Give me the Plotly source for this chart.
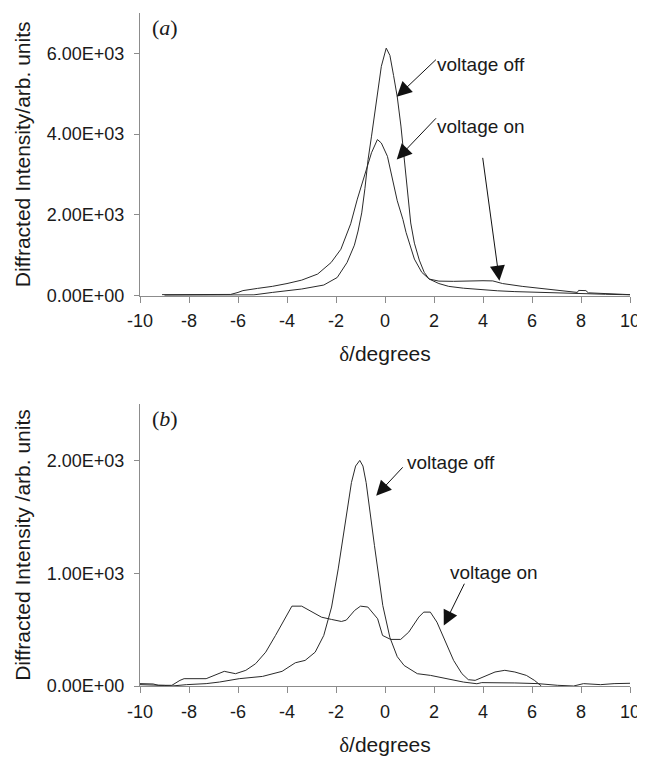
import plotly.graph_objects as go

# ---------------- data ----------------
# Panel (a)
a_off_x = [-9.0, -8.0, -7.0, -6.0, -5.35, -4.6, -4.0, -3.4, -2.5, -1.95, -1.55, -1.25, -1.1, -0.95, -0.82,
           -0.69, -0.55, -0.35, -0.15, 0.05, 0.2, 0.35, 0.5, 0.65, 0.8, 0.93, 1.05, 1.2, 1.4, 1.6,
           1.8, 2.2, 2.6, 3.2, 3.9, 4.6, 5.3, 6.0, 6.7, 7.4, 8.0, 8.5, 9.0, 9.7, 10.0]
a_off_y = [10, 10, 12, 15, 20, 80, 120, 165, 263, 450, 820, 1250, 1600, 2050, 2650,
           3375, 3950, 4857, 5679, 6130, 5950, 5450, 4923, 4200, 3300, 2387, 1800, 1300, 880, 578,
           412, 300, 230, 185, 150, 120, 100, 85, 75, 65, 55, 45, 35, 25, 20]

a_on_x = [-9.1, -8.0, -7.0, -6.3, -6.0, -5.8, -5.2, -4.6, -4.0, -3.4, -2.75, -2.2, -1.8, -1.4,
          -1.13, -0.96, -0.72, -0.55, -0.31, -0.15, 0.1, 0.3, 0.5, 0.73, 0.86, 1.2, 1.5, 1.8, 2.2, 2.8,
          3.3, 4.0, 4.4, 4.8, 5.6, 6.5, 7.3, 7.85, 7.9, 8.2, 8.3, 9.3, 10.0]
a_on_y = [25, 25, 25, 30, 80, 125, 180, 230, 300, 385, 535, 820, 1150, 1780,
          2390, 2716, 3210, 3540, 3866, 3780, 3450, 2900, 2350, 1890, 1565, 906, 578, 412, 360, 355,
          365, 370, 365, 300, 230, 165, 115, 80, 130, 125, 70, 50, 25]

# Panel (b)
b_off_x = [-10.0, -9.5, -9.0, -8.7, -8.1, -7.3, -6.76, -5.95, -5.0, -4.2, -3.66, -3.26, -2.85, -2.5,
           -2.3, -2.18, -1.91, -1.71, -1.37, -1.2, -1.03, -0.9, -0.77, -0.43, -0.09, 0.2, 0.5, 0.78,
           1.32, 1.86, 2.53, 3.2, 3.75, 3.95, 5.3, 6.24, 7.05, 7.7, 8.1, 8.8, 9.35, 10.0]
b_off_y = [12, 10, 5, 0, 12, 21, 35, 65, 85, 130, 206, 227, 300, 448,
           600, 700, 1038, 1333, 1804, 1950, 2000, 1950, 1804, 1244, 713, 430, 260, 182,
           109, 94, 65, 35, 20, 30, 27, 21, 6, 0, 21, 12, 21, 24]

b_on_x = [-10.0, -9.46, -9.25, -8.7, -8.37, -8.2, -7.3, -7.03, -6.56, -6.1, -5.68, -5.28, -4.87, -4.47,
          -4.06, -3.8, -3.4, -2.99, -2.59, -2.18, -1.78, -1.58, -1.24, -1.0, -0.7, -0.3, -0.1, 0.23,
          0.64, 0.97, 1.38, 1.58, 1.85, 2.12, 2.46, 2.8, 3.14, 3.4, 3.68, 4.08, 4.49, 4.89, 5.3, 5.77,
          6.1, 6.38]
b_on_y = [21, 18, 6, 6, 50, 65, 65, 88, 130, 109, 139, 198, 300, 448,
          610, 708, 708, 655, 610, 590, 572, 584, 670, 708, 700, 596, 448, 413,
          413, 478, 611, 655, 655, 566, 389, 227, 109, 56, 50, 88, 124, 139, 124, 94,
          50, 0]

x_ticks = [-10, -8, -6, -4, -2, 0, 2, 4, 6, 8, 10]
x_tick_labels = ["-10", "-8", "-6", "-4", "-2", "0", "2", "4", "6", "8", "10"]
a_y_ticks = [0, 2000, 4000, 6000]
a_y_labels = ["0.00E+00", "2.00E+03", "4.00E+03", "6.00E+03"]
b_y_ticks = [0, 1000, 2000]
b_y_labels = ["0.00E+00", "1.00E+03", "2.00E+03"]

# ---------------- figure ----------------
LINE = "#2a2a2a"
AX = "#8c8c8c"
TXT = "#1a1a1a"
FONT = "Liberation Sans, Arial, sans-serif"
SERIF = "Liberation Serif, Times New Roman, serif"

fig = go.Figure()
fig.add_trace(go.Scatter(x=a_off_x, y=a_off_y, mode="lines", line=dict(color=LINE, width=1),
                         xaxis="x", yaxis="y", showlegend=False))
fig.add_trace(go.Scatter(x=a_on_x, y=a_on_y, mode="lines", line=dict(color=LINE, width=1),
                         xaxis="x", yaxis="y", showlegend=False))
fig.add_trace(go.Scatter(x=b_off_x, y=b_off_y, mode="lines", line=dict(color=LINE, width=1),
                         xaxis="x2", yaxis="y2", showlegend=False))
fig.add_trace(go.Scatter(x=b_on_x, y=b_on_y, mode="lines", line=dict(color=LINE, width=1),
                         xaxis="x2", yaxis="y2", showlegend=False))

xtitle = "<span style=\"font-family:'Liberation Serif', serif\">δ</span>/degrees"
xcommon = dict(range=[-10, 10], tickvals=x_ticks, ticktext=x_tick_labels, ticks="outside", ticklen=6,
               tickcolor=AX, showline=True, linecolor=AX, linewidth=1, showgrid=False, zeroline=False,
               tickfont=dict(family=FONT, size=18, color=TXT), ticklabelstandoff=3,
               ticklabeloverflow="allow",
               title=dict(text=xtitle, font=dict(family=FONT, size=21, color=TXT), standoff=16))
ycommon = dict(ticks="outside", ticklen=5, tickcolor=AX, showline=True, linecolor=AX, linewidth=1,
               showgrid=False, zeroline=False, tickfont=dict(family=FONT, size=18, color=TXT),
               ticklabelstandoff=6)

# figure is drawn 8px smaller than the window to allow for the page's default body margin
fig.update_layout(
    width=637, height=749,
    margin=dict(l=132, r=10, t=5, b=70),
    paper_bgcolor="white", plot_bgcolor="white",
    xaxis=dict(xcommon, domain=[0, 1], anchor="y"),
    yaxis=dict(ycommon, domain=[0.58, 1.0], range=[0, 7000], tickvals=a_y_ticks, ticktext=a_y_labels,
               anchor="x",
               title=dict(text="Diffracted Intensity/arb. units", font=dict(family=FONT, size=21, color=TXT),
                          standoff=10)),
    xaxis2=dict(xcommon, domain=[0, 1], anchor="y2"),
    yaxis2=dict(ycommon, domain=[0.0, 0.419], range=[0, 2500], tickvals=b_y_ticks, ticktext=b_y_labels,
                anchor="x2",
                title=dict(text="Diffracted Intensity /arb. units", font=dict(family=FONT, size=21, color=TXT),
                           standoff=10)),
)

ann = []
# panel labels
ann.append(dict(text="(<i>a</i>)", x=0.02, y=1.0, xref="paper", yref="paper", xanchor="left", yanchor="top",
                showarrow=False, font=dict(family=SERIF, size=22, color=TXT)))
ann.append(dict(text="(<i>b</i>)", x=0.02, y=0.419, xref="paper", yref="paper", xanchor="left", yanchor="top",
                showarrow=False, font=dict(family=SERIF, size=22, color=TXT)))

tf = dict(family=FONT, size=19, color=TXT)
# panel (a) texts
ann.append(dict(text="voltage off", x=2.06, y=5726, xref="x", yref="y", xanchor="left", yanchor="middle",
                showarrow=False, font=tf))
ann.append(dict(text="voltage on", x=2.06, y=4190, xref="x", yref="y", xanchor="left", yanchor="middle",
                showarrow=False, font=tf))
# panel (a) arrows
arrow = dict(text="", showarrow=True, arrowhead=2, arrowsize=3, arrowwidth=1, arrowcolor="#111",
             axref="x", ayref="y", standoff=0)
ann.append(dict(arrow, x=0.48, y=4923, ax=2.14, ay=5880, xref="x", yref="y"))
ann.append(dict(arrow, x=0.48, y=3375, ax=2.14, ay=4430, xref="x", yref="y"))
ann.append(dict(arrow, x=4.67, y=370, ax=3.98, ay=3450, xref="x", yref="y"))
# panel (b)
ann.append(dict(text="voltage off", x=0.8, y=1983, xref="x2", yref="y2", xanchor="left", yanchor="middle",
                showarrow=False, font=tf))
ann.append(dict(text="voltage on", x=2.56, y=1003, xref="x2", yref="y2", xanchor="left", yanchor="middle",
                showarrow=False, font=tf))
arrow2 = dict(arrow, axref="x2", ayref="y2")
ann.append(dict(arrow2, x=-0.36, y=1687, ax=0.78, ay=1952, xref="x2", yref="y2"))
ann.append(dict(arrow2, x=2.4, y=536, ax=3.27, ay=920, xref="x2", yref="y2"))

fig.update_layout(annotations=ann)
fig.write_html("out.html")
